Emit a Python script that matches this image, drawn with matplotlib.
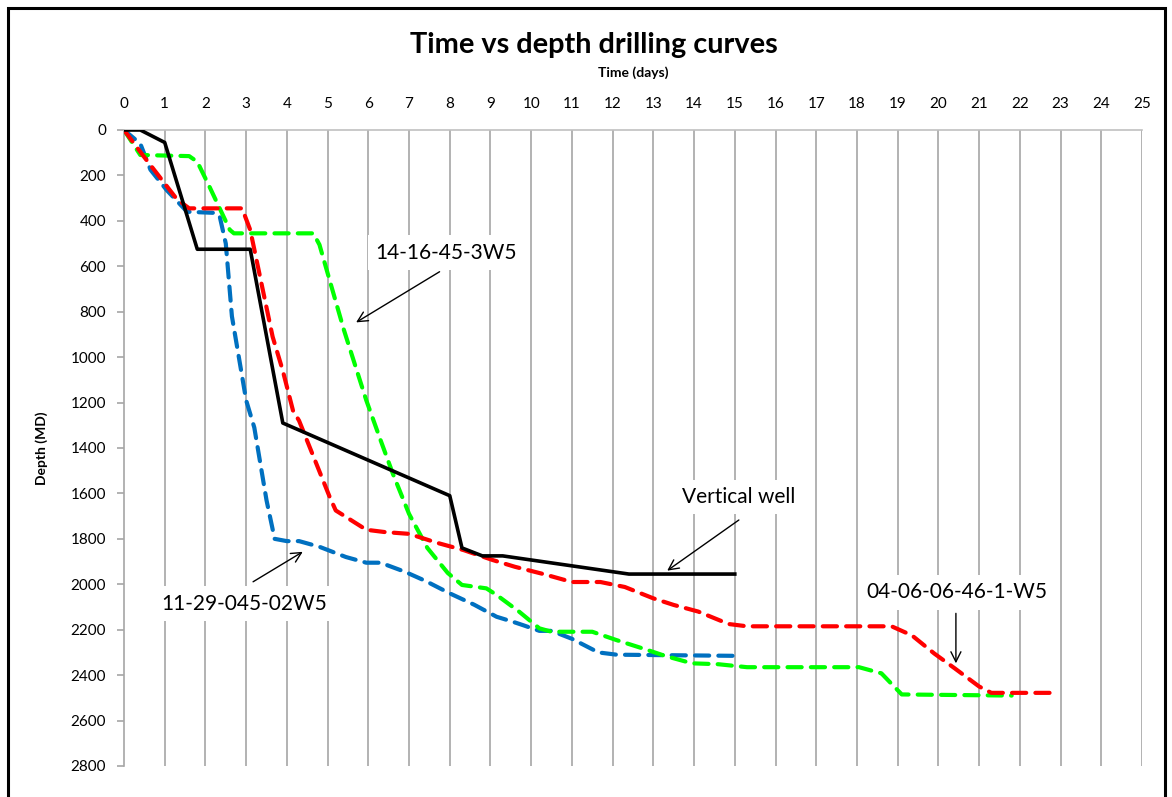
import matplotlib.pyplot as plt
from matplotlib.patches import Rectangle

plt.rcParams['font.family'] = ['Lato', 'DejaVu Sans']

# time (days) / depth (MD) pairs
vert_days = [0, 0.4, 1.0, 1.8, 3.1, 3.9, 8.0, 8.3, 8.8, 9.3, 12.4, 15.0]
vert_depth = [0, 0, 55, 525, 525, 1290, 1610, 1840, 1875, 1875, 1955, 1955]

red_days = [0, 0.5, 1.3, 1.6, 2.9, 3.1, 3.65, 3.9, 4.15, 4.3, 5.05, 5.2, 5.95, 6.4,
            7.0, 7.7, 8.35, 9.05, 9.6, 10.3, 11.0, 11.7, 12.3, 13.0, 13.5, 14.1,
            14.85, 15.3, 18.85, 19.35, 19.9, 20.4, 21.0, 21.3, 22.9]
red_depth = [0, 120, 305, 345, 345, 440, 910, 1060, 1235, 1280, 1615, 1675, 1760, 1770,
             1778, 1818, 1850, 1893, 1923, 1955, 1990, 1990, 2012, 2062, 2091, 2120,
             2175, 2185, 2185, 2225, 2305, 2370, 2450, 2478, 2478]

green_days = [0, 0.4, 1.6, 1.8, 2.1, 2.6, 2.7, 4.65, 4.8, 5.4, 5.95, 6.3, 6.6, 7.0,
              7.45, 7.95, 8.3, 8.9, 9.15, 9.7, 10.2, 10.5, 11.5, 12.1, 12.8, 13.3,
              13.95, 14.6, 15.3, 18.05, 18.6, 19.1, 21.8]
green_depth = [0, 110, 115, 140, 250, 440, 455, 455, 505, 880, 1190, 1365, 1512, 1690,
               1840, 1950, 2003, 2018, 2047, 2120, 2194, 2209, 2209, 2246, 2286, 2316,
               2348, 2352, 2365, 2365, 2392, 2485, 2490]

blue_days = [0, 0.4, 0.65, 1.05, 1.55, 2.25, 2.35, 2.5, 2.65, 3.0, 3.2, 3.5, 3.7, 4.0,
             4.3, 4.8, 5.45, 5.95, 6.3, 6.9, 7.4, 8.0, 8.6, 9.15, 9.55, 9.8, 10.2,
             10.5, 11.0, 11.65, 12.1, 15.0]
blue_depth = [0, 60, 175, 265, 360, 365, 380, 500, 820, 1190, 1310, 1630, 1800, 1810,
              1810, 1835, 1880, 1905, 1905, 1945, 1985, 2040, 2090, 2143, 2165, 2180,
              2205, 2205, 2240, 2300, 2310, 2315]

x_ticks = list(range(0, 26))
y_ticks = list(range(0, 2801, 200))

fig = plt.figure(figsize=(11.72, 7.97), dpi=100)
ax = fig.add_axes([0.1058, 0.0389, 0.8686, 0.798])

# outer chart border (bottom edge is outside the image)
fig.patches.append(Rectangle((8 / 1172, -0.05), (1165 - 8) / 1172, 1 - 8 / 797 + 0.05,
                             transform=fig.transFigure, fill=False, edgecolor='black',
                             linewidth=2.2, zorder=0))

grid_col = '#a6a6a6'
for d in x_ticks[1:]:
    ax.axvline(d, color=grid_col, linewidth=1.2, zorder=1)

dash = dict(linewidth=3.0, dashes=(3.4, 2.2), dash_capstyle='round', zorder=3)
ax.plot(blue_days, blue_depth, color='#0070c0', **dash)
ax.plot(green_days, green_depth, color='#00ff00', **dash)
ax.plot(red_days, red_depth, color='#ff0000', **dash)
ax.plot(vert_days, vert_depth, color='black', linewidth=2.6, zorder=4)

ax.set_xlim(0, 25)
ax.set_ylim(2800, 0)
ax.xaxis.tick_top()
ax.xaxis.set_label_position('top')
ax.set_xticks(x_ticks)
ax.set_yticks(y_ticks)
ax.tick_params(axis='x', length=0, pad=14, labelsize=11)
ax.tick_params(axis='y', length=5, color=grid_col, width=1.2, pad=8, labelsize=11)
for side in ['right', 'bottom']:
    ax.spines[side].set_visible(False)
ax.spines['top'].set_color('#c0c0c0')
ax.spines['left'].set_color(grid_col)
ax.spines['top'].set_linewidth(1.2)
ax.spines['left'].set_linewidth(1.2)

ax.set_xlabel('Time (days)', fontsize=10, fontweight='bold', labelpad=14)
ax.set_ylabel('Depth (MD)', fontsize=10, fontweight='bold', labelpad=16)
fig.text(594 / 1172, 1 - 45 / 797, 'Time vs depth drilling curves', ha='center', va='center',
         fontsize=20.8, fontweight='bold')

box = dict(boxstyle='square,pad=0.35', facecolor='white', edgecolor='none')
arrow = dict(arrowstyle='->', color='black', linewidth=1.0, mutation_scale=18,
             shrinkA=0, shrinkB=0)
ax.annotate('', xy=(5.7, 847), xytext=(7.75, 624), arrowprops=arrow, zorder=5)
ax.text(7.9, 540, '14-16-45-3W5', ha='center', va='center', fontsize=15, bbox=box, zorder=6)

ax.annotate('', xy=(13.34, 1940), xytext=(15.1, 1717), arrowprops=arrow, zorder=5)
ax.text(15.1, 1615, 'Vertical well', ha='center', va='center', fontsize=15, bbox=box, zorder=6)

ax.annotate('', xy=(4.39, 1857), xytext=(3.17, 1989), arrowprops=arrow, zorder=5)
ax.text(2.95, 2085, '11-29-045-02W5', ha='center', va='center', fontsize=15, bbox=box, zorder=6)

ax.annotate('', xy=(20.43, 2348), xytext=(20.43, 2128), arrowprops=arrow, zorder=5)
ax.text(20.45, 2035, '04-06-06-46-1-W5', ha='center', va='center', fontsize=15, bbox=box, zorder=6)

fig.savefig('out.png', dpi=100)
